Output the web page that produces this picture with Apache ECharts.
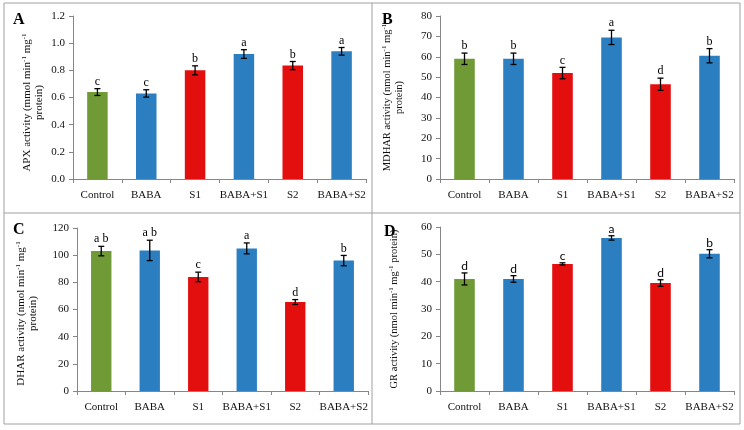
<!DOCTYPE html>
<html>
<head>
<meta charset="utf-8">
<script src="https://cdn.jsdelivr.net/npm/echarts@6/dist/echarts.min.js"></script>
<style>
html,body{margin:0;padding:0;background:#fff;}
#chart{width:744px;height:430px;}
</style>
</head>
<body>
<div id="chart"></div>
<script>
const categories = ['Control', 'BABA', 'S1', 'BABA+S1', 'S2', 'BABA+S2'];
const barColors = ['#6f9a36', '#2b7fc1', '#e30f0f', '#2b7fc1', '#e30f0f', '#2b7fc1'];

const apxMean = [0.64, 0.63, 0.80, 0.92, 0.835, 0.94];
const apxErr = [0.025, 0.027, 0.033, 0.032, 0.03, 0.028];
const apxLetters = ['c', 'c', 'b', 'a', 'b', 'a'];

const mdharMean = [59, 59, 52, 69.5, 46.5, 60.5];
const mdharErr = [2.8, 2.8, 2.8, 3.5, 3.0, 3.5];
const mdharLetters = ['b', 'b', 'c', 'a', 'd', 'b'];

const dharMean = [103, 103.5, 84, 105, 65.5, 96];
const dharErr = [3.5, 7.5, 3.5, 4, 1.8, 3.8];
const dharLetters = ['a b', 'a b', 'c', 'a', 'd', 'b'];

const grMean = [41, 41, 46.5, 56, 39.5, 50.2];
const grErr = [2.2, 1.2, 0.4, 0.8, 1.2, 1.5];
const grLetters = ['d', 'd', 'c', 'a', 'd', 'b'];

const yTicksA = {min: 0, max: 1.2, interval: 0.2, decimals: 1};
const yTicksB = {min: 0, max: 80, interval: 10, decimals: 0};
const yTicksC = {min: 0, max: 120, interval: 20, decimals: 0};
const yTicksD = {min: 0, max: 60, interval: 10, decimals: 0};

const SERIF = '"Liberation Serif", "Times New Roman", serif';
const SANS = 'Lato, "Liberation Sans", sans-serif';

const panels = [
  {mean: apxMean, err: apxErr, letters: apxLetters, ticks: yTicksA, letterFont: SERIF,
   grid: {left: 73, top: 16, width: 293, height: 163}, nameSize: 11, namePad: [0, 10, 0, 0],
   name: '{a|APX activity (mmol min}{s|-1}{a| mg}{s|-1}\n{a|protein)}', nameGap: 28},
  {mean: mdharMean, err: mdharErr, letters: mdharLetters, ticks: yTicksB, letterFont: SERIF,
   grid: {left: 440, top: 16, width: 294, height: 163}, nameSize: 10.5, namePad: [0, 0, 0, 0],
   name: '{a|MDHAR activity (nmol min}{s|-1}{a| mg}{s|-1}\n{a|protein)}', nameGap: 35},
  {mean: dharMean, err: dharErr, letters: dharLetters, ticks: yTicksC, letterFont: SERIF,
   grid: {left: 77, top: 228, width: 291, height: 163}, nameSize: 11, namePad: [0, 8, 0, 0],
   name: '{a|DHAR activity (nmol min}{s|-1}{a| mg}{s|-1}\n{a|protein)}', nameGap: 38},
  {mean: grMean, err: grErr, letters: grLetters, ticks: yTicksD, letterFont: SANS,
   grid: {left: 440, top: 227, width: 294, height: 164}, nameSize: 10.5, namePad: [0, 0, 0, 0],
   name: '{a|GR activity (nmol min}{s|-1}{a| mg}{s|-1}{a| protein)}', nameGap: 40}
];

const grids = [], xAxes = [], yAxes = [], series = [];
panels.forEach((p, i) => {
  grids.push(Object.assign({containLabel: false}, p.grid));
  xAxes.push({
    type: 'category', gridIndex: i, data: categories,
    axisLine: {lineStyle: {color: '#868686', width: 1}},
    axisTick: {show: true, length: 4, lineStyle: {color: '#868686'}},
    axisLabel: {interval: 0, margin: 11, color: '#111', fontFamily: SERIF, fontSize: 11}
  });
  yAxes.push({
    type: 'value', gridIndex: i,
    min: p.ticks.min, max: p.ticks.max, interval: p.ticks.interval,
    splitLine: {show: false},
    axisLine: {show: true, lineStyle: {color: '#868686', width: 1}},
    axisTick: {show: true, length: 4, lineStyle: {color: '#868686'}},
    axisLabel: {margin: 8, color: '#111', fontFamily: SERIF, fontSize: 11,
      formatter: v => v.toFixed(p.ticks.decimals)},
    name: p.name, nameLocation: 'middle', nameGap: p.nameGap, nameRotate: 90,
    nameTextStyle: {
      color: '#111', fontFamily: SERIF, fontSize: p.nameSize, lineHeight: 12,
      padding: p.namePad,
      rich: {
        a: {fontFamily: SERIF, fontSize: p.nameSize, color: '#111', lineHeight: 12},
        s: {fontFamily: SERIF, fontSize: 7, color: '#111', verticalAlign: 'top', lineHeight: 12}
      }
    }
  });
  series.push({
    type: 'bar', xAxisIndex: i, yAxisIndex: i, data: p.mean, barWidth: '42%',
    itemStyle: {color: params => barColors[params.dataIndex]},
    silent: true
  });
  const errData = p.mean.map((m, k) => [k, m - p.err[k], m + p.err[k]]);
  series.push({
    type: 'custom', xAxisIndex: i, yAxisIndex: i, data: errData, z: 10, silent: true,
    renderItem: (params, api) => {
      const x = api.value(0), lo = api.value(1), hi = api.value(2);
      const pl = api.coord([x, lo]);
      const ph = api.coord([x, hi]);
      const w = 3;
      const ls = {stroke: '#000', lineWidth: 1.3};
      return {
        type: 'group',
        children: [
          {type: 'line', shape: {x1: pl[0], y1: pl[1], x2: ph[0], y2: ph[1]}, style: ls},
          {type: 'line', shape: {x1: ph[0] - w, y1: ph[1], x2: ph[0] + w, y2: ph[1]}, style: ls},
          {type: 'line', shape: {x1: pl[0] - w, y1: pl[1], x2: pl[0] + w, y2: pl[1]}, style: ls},
          {type: 'text', style: {
            text: p.letters[params.dataIndex], x: ph[0], y: ph[1] - 1,
            align: 'center', verticalAlign: 'bottom',
            fontFamily: p.letterFont, fontSize: 12, fill: '#000'
          }}
        ]
      };
    }
  });
});

const chart = echarts.init(document.getElementById('chart'), null, {renderer: 'canvas'});
chart.setOption({
  backgroundColor: '#fff',
  animation: false,
  grid: grids, xAxis: xAxes, yAxis: yAxes, series: series,
  graphic: [
    {type: 'rect', shape: {x: 4, y: 3, width: 736, height: 421}, style: {fill: 'none', stroke: '#a0a0a0', lineWidth: 1}},
    {type: 'line', shape: {x1: 372, y1: 3, x2: 372, y2: 424}, style: {stroke: '#a0a0a0', lineWidth: 1}},
    {type: 'line', shape: {x1: 4, y1: 213, x2: 740, y2: 213}, style: {stroke: '#a0a0a0', lineWidth: 1}},
    {type: 'text', left: 13, top: 12, style: {text: 'A', font: 'bold 16px ' + SERIF, fill: '#000'}},
    {type: 'text', left: 382, top: 12, style: {text: 'B', font: 'bold 16px ' + SERIF, fill: '#000'}},
    {type: 'text', left: 13, top: 222, style: {text: 'C', font: 'bold 16px ' + SERIF, fill: '#000'}},
    {type: 'text', left: 384, top: 224, style: {text: 'D', font: 'bold 16px ' + SERIF, fill: '#000'}}
  ]
});
</script>
</body>
</html>
